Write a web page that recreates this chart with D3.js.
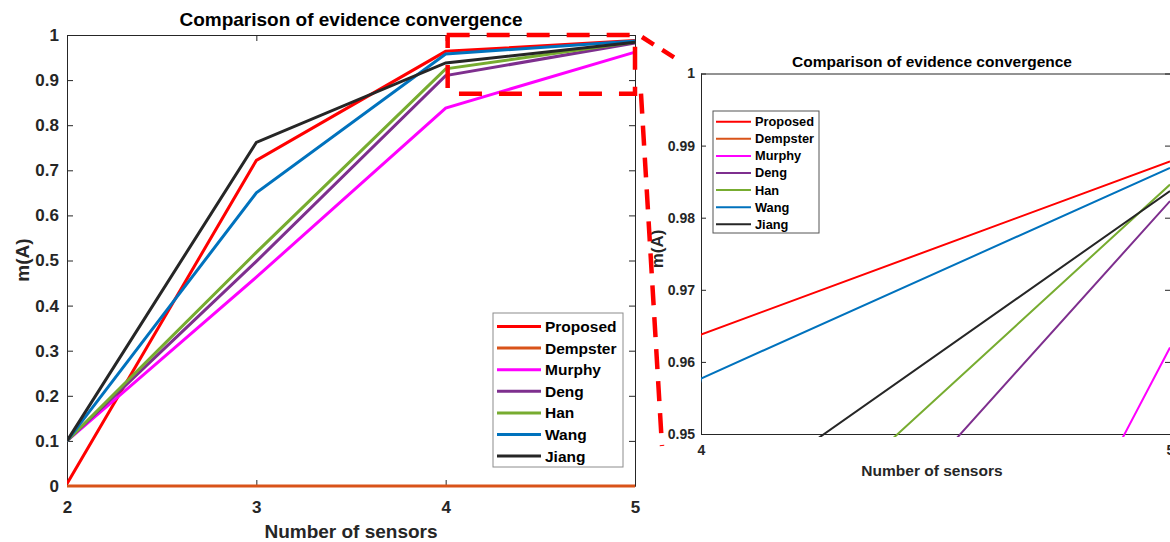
<!DOCTYPE html>
<html>
<head>
<meta charset="utf-8">
<script src="https://cdn.jsdelivr.net/npm/d3@7"></script>
<style>
  html, body { margin: 0; padding: 0; background: #fff; }
  svg { display: block; font-family: "Liberation Sans", Arial, Helvetica, sans-serif; font-weight: bold; }
</style>
</head>
<body>
<svg id="chart" width="1170" height="542"></svg>
<script>
// ---------------- data ----------------
const sensors = [2, 3, 4, 5];
const seriesNames = ["Proposed", "Dempster", "Murphy", "Deng", "Han", "Wang", "Jiang"];
const seriesColors = ["#FF0000", "#D95319", "#FF00FF", "#7E2F8E", "#77AC30", "#0072BD", "#262626"];
const proposed = [0.005, 0.722, 0.9638, 0.9878];
const dempster = [0, 0, 0, 0];
const murphy   = [0.1, 0.463, 0.838, 0.962];
const deng     = [0.1, 0.498, 0.910, 0.9823];
const han      = [0.1, 0.518, 0.925, 0.9846];
const wang     = [0.1, 0.650, 0.9577, 0.9869];
const jiang    = [0.1, 0.762, 0.938, 0.9837];
const seriesValues = [proposed, dempster, murphy, deng, han, wang, jiang];

const mainXTicks = [2, 3, 4, 5];
const mainYTicks = [0, 0.1, 0.2, 0.3, 0.4, 0.5, 0.6, 0.7, 0.8, 0.9, 1];
const insetXTicks = [4, 5];
const insetYTicks = [0.95, 0.96, 0.97, 0.98, 0.99, 1];
const zoomBox = { x0: 4, x1: 5, y0: 0.87, y1: 1 };

const titleText = "Comparison of evidence convergence";
const xLabelText = "Number of sensors";
const yLabelText = "m(A)";

// ---------------- drawing ----------------
const svg = d3.select("#chart");
const ink = "#262626";
const fmt = d => String(+d.toFixed(2));

const series = seriesNames.map((name, i) => ({
  name, color: seriesColors[i],
  pts: sensors.map((s, j) => ({ x: s, y: seriesValues[i][j] }))
}));

function drawPanel(cfg) {
  const g = svg.append("g");
  const x = d3.scaleLinear().domain(cfg.xDomain).range([cfg.left, cfg.right]);
  const y = d3.scaleLinear().domain(cfg.yDomain).range([cfg.bottom, cfg.top]);

  const clipId = "clip" + cfg.id;
  svg.append("defs").append("clipPath").attr("id", clipId)
    .append("rect").attr("x", cfg.left).attr("y", cfg.top - 3)
    .attr("width", cfg.right - cfg.left + 3).attr("height", cfg.bottom - cfg.top + 6);

  // axes
  const styleAxis = (sel, fs) => {
    sel.select(".domain").attr("stroke", ink).attr("stroke-width", 1);
    sel.selectAll(".tick line").attr("stroke", ink);
    sel.selectAll(".tick text").attr("fill", ink).attr("font-size", fs).attr("font-weight", "bold")
      .attr("font-family", '"Liberation Sans", Arial, sans-serif');
  };
  const ax = g.append("g").attr("transform", `translate(0,${cfg.bottom})`)
    .call(d3.axisBottom(x).tickValues(cfg.xTicks).tickFormat(fmt).tickSizeInner(-cfg.tick).tickSizeOuter(0).tickPadding(cfg.xPad));
  styleAxis(ax, cfg.tickFs);
  const ay = g.append("g").attr("transform", `translate(${cfg.left},0)`)
    .call(d3.axisLeft(y).tickValues(cfg.yTicks).tickFormat(fmt).tickSizeInner(-cfg.tick).tickSizeOuter(0).tickPadding(cfg.yPad));
  styleAxis(ay, cfg.tickFs);
  const at = g.append("g").attr("transform", `translate(0,${cfg.top})`)
    .call(d3.axisTop(x).tickValues(cfg.xTicks).tickFormat("").tickSizeInner(-cfg.tick).tickSizeOuter(0));
  styleAxis(at, cfg.tickFs);
  const ar = g.append("g").attr("transform", `translate(${cfg.right},0)`)
    .call(d3.axisRight(y).tickValues(cfg.yTicks).tickFormat("").tickSizeInner(-cfg.tick).tickSizeOuter(0));
  styleAxis(ar, cfg.tickFs);

  // lines (drawn over the axes, as in the original)
  const line = d3.line().x(d => x(d.x)).y(d => y(d.y));
  g.append("g").attr("clip-path", `url(#${clipId})`)
    .selectAll("path").data(series).join("path")
    .attr("d", d => line(d.pts))
    .attr("fill", "none")
    .attr("stroke", d => d.color)
    .attr("stroke-width", cfg.lw)
    .attr("stroke-linejoin", "miter");

  // title & labels
  g.append("text").attr("x", cfg.titleX).attr("y", cfg.titleY)
    .attr("text-anchor", "middle").attr("font-size", cfg.titleFs).attr("fill", "#000")
    .text(titleText);
  g.append("text").attr("x", cfg.xLabX).attr("y", cfg.xLabY)
    .attr("text-anchor", "middle").attr("font-size", cfg.labFs).attr("fill", ink)
    .text(xLabelText);
  g.append("text").attr("transform", `translate(${cfg.yLabX},${cfg.yLabY}) rotate(-90)`)
    .attr("text-anchor", "middle").attr("font-size", cfg.yLabFs).attr("fill", ink)
    .text(yLabelText);

  // legend
  const L = cfg.legend;
  const lg = g.append("g");
  lg.append("rect").attr("x", L.x).attr("y", L.y).attr("width", L.w).attr("height", L.h)
    .attr("fill", "#fff").attr("stroke", L.border).attr("stroke-width", 1);
  const items = lg.selectAll("g.item").data(series).join("g").attr("class", "item")
    .attr("transform", (d, i) => `translate(0,${L.y0 + i * L.dy})`);
  items.append("line").attr("x1", L.lx0).attr("x2", L.lx1).attr("y1", 0).attr("y2", 0)
    .attr("stroke", d => d.color).attr("stroke-width", cfg.lw);
  items.append("text").attr("x", L.tx).attr("y", 0).attr("dy", "0.35em")
    .attr("font-size", L.fs).attr("fill", "#000").text(d => d.name);

  return { x, y };
}

const main = drawPanel({
  id: "main", xDomain: [2, 5], yDomain: [0, 1],
  left: 67, right: 635, top: 35, bottom: 486,
  xTicks: mainXTicks, yTicks: mainYTicks, tick: 6, xPad: 15, yPad: 8, tickFs: 17,
  lw: 3,
  titleX: 351, titleY: 26, titleFs: 19,
  xLabX: 351, xLabY: 538, labFs: 19,
  yLabX: 29, yLabY: 260, yLabFs: 19,
  legend: { x: 493, y: 313, w: 130, h: 154, y0: 326.5, dy: 21.6, lx0: 497, lx1: 541, tx: 545, fs: 15.5, border: "#8c8c8c" }
});

const inset = drawPanel({
  id: "inset", xDomain: [4, 5], yDomain: [0.95, 1],
  left: 701, right: 1170, top: 73.5, bottom: 434,
  xTicks: insetXTicks, yTicks: insetYTicks, tick: 5, xPad: 11, yPad: 6, tickFs: 14,
  lw: 2,
  titleX: 932, titleY: 67, titleFs: 15.5,
  xLabX: 932, xLabY: 476, labFs: 15.5,
  yLabX: 663, yLabY: 249, yLabFs: 17,
  legend: { x: 713, y: 111, w: 106, h: 122, y0: 121.7, dy: 17.1, lx0: 716, lx1: 751, tx: 755, fs: 12.8, border: "#555" }
});

// ---------------- zoom annotation ----------------
const ann = svg.append("g").attr("fill", "none").attr("stroke", "#FF0000")
  .attr("stroke-width", 4.5).attr("stroke-dasharray", "23,17");
const rx0 = main.x(zoomBox.x0), rx1 = main.x(zoomBox.x1);
const ry0 = main.y(zoomBox.y1), ry1 = main.y(zoomBox.y0);
ann.append("path").attr("d", `M${rx0 + 1},${ry0}H${rx1}V${ry1}H${rx0 + 2}V${ry0}`);
// connector to the inset's top-left corner (drawn partially)
const cx = inset.x(4), cy = inset.y(1);
const t = 0.68;
ann.append("path").attr("stroke-dasharray", "14,10")
  .attr("d", `M${rx1 + 7},${ry0 + 2}L${rx1 + (cx - rx1) * t},${ry0 + (cy - ry0) * t}`);
// connector down toward the inset's x axis
ann.append("path").attr("stroke-dasharray", "20,12")
  .attr("d", `M${rx1 + 6},${ry1}L${rx1 + 27},${inset.y(0.95) + 12}`);
</script>
</body>
</html>
